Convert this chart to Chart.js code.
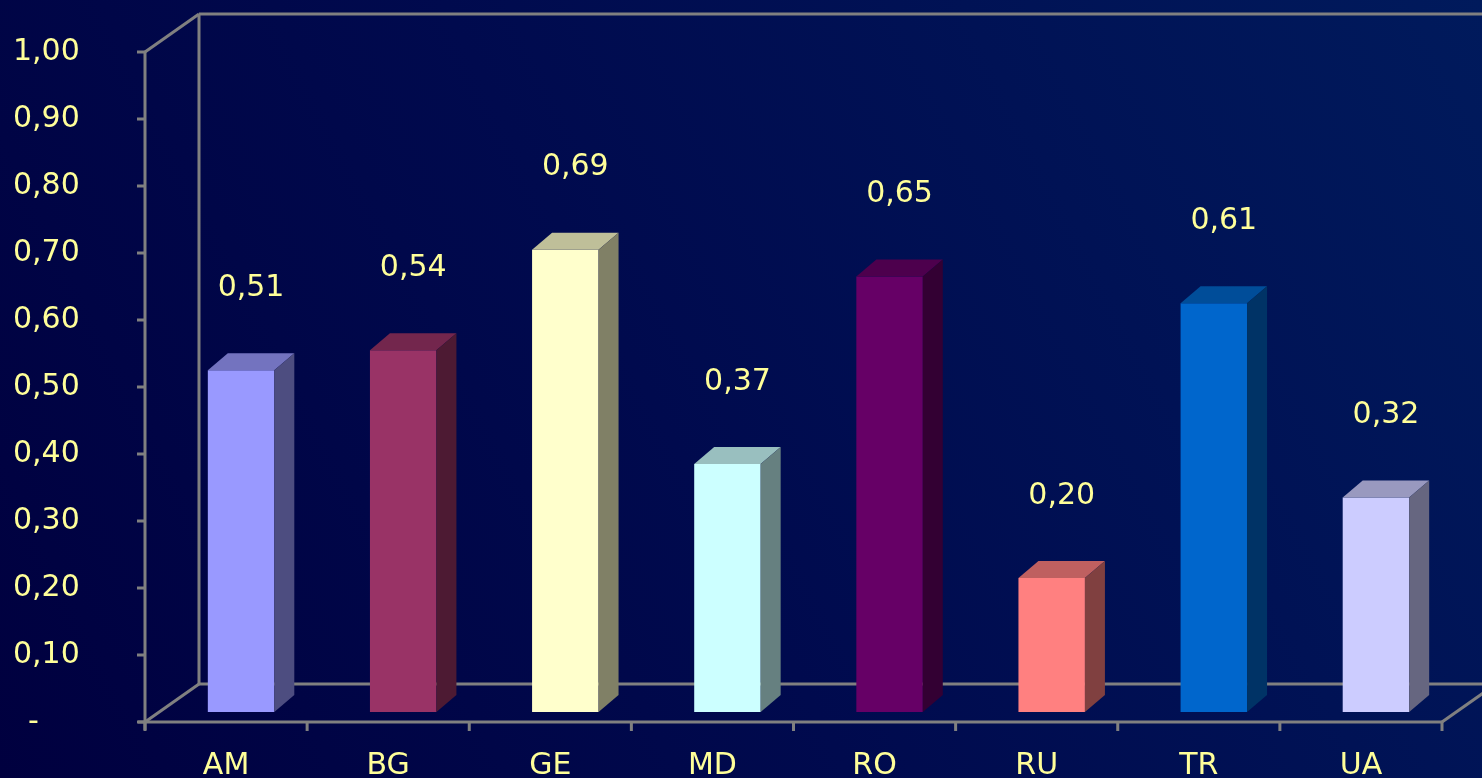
<!DOCTYPE html>
<html>
<head>
<meta charset="utf-8">
<script src="https://cdn.jsdelivr.net/npm/chart.js@4/dist/chart.umd.min.js"></script>
<style>
  html, body { margin: 0; padding: 0; background: #00004a; overflow: hidden; }
  #wrap { width: 1482px; height: 778px; }
</style>
</head>
<body>
<div id="wrap"><canvas id="c" width="1482" height="778"></canvas></div>
<script>
// Country codes along the category axis
const countries = ['AM', 'BG', 'GE', 'MD', 'RO', 'RU', 'TR', 'UA'];
// Index value per country
const values = [0.51, 0.54, 0.69, 0.37, 0.65, 0.20, 0.61, 0.32];
// Front-face colour of each column
const barColors = ['#9999FF', '#993366', '#FFFFCC', '#CCFFFF', '#660066', '#FF8080', '#0066CC', '#CCCCFF'];
// Value axis ticks
const yTicks = [0, 0.1, 0.2, 0.3, 0.4, 0.5, 0.6, 0.7, 0.8, 0.9, 1.0];

const TEXT = '#FFFF99';
const LINE = '#808080';
const FONT = '"DejaVu Sans", sans-serif';

// Depth of the floor / walls and of each column
const WALL = { dx: 54, dy: -38 };
const COL = { dx: 20, dy: -17 };
// Columns stand part-way into the floor
const COL_SHIFT = { x: 15, y: -10 };

function fmt(v) {
  if (Math.abs(v) < 1e-9) return '\u2002-';
  return v.toFixed(2).replace('.', ',');
}

function shade(hex, f) {
  const n = parseInt(hex.slice(1), 16);
  const r = Math.round(((n >> 16) & 255) * f);
  const g = Math.round(((n >> 8) & 255) * f);
  const b = Math.round((n & 255) * f);
  return `rgb(${r},${g},${b})`;
}

const scene3d = {
  id: 'scene3d',
  beforeDraw(chart) {
    const { ctx, width, height } = chart;
    ctx.save();
    const g = ctx.createLinearGradient(0, height, width, 0);
    g.addColorStop(0, '#00003f');
    g.addColorStop(0.45, '#000a4e');
    g.addColorStop(1, '#001a5c');
    ctx.fillStyle = g;
    ctx.fillRect(0, 0, width, height);
    ctx.restore();
  },
  beforeDatasetsDraw(chart) {
    const { ctx, chartArea: a, scales } = chart;
    const W = chart.width;
    const y0 = scales.y.getPixelForValue(0);
    const y1 = scales.y.getPixelForValue(1);
    ctx.save();
    ctx.strokeStyle = LINE;
    ctx.lineWidth = 3;
    ctx.lineCap = 'butt';
    const seg = (x1, y1_, x2, y2) => { ctx.beginPath(); ctx.moveTo(x1, y1_); ctx.lineTo(x2, y2); ctx.stroke(); };
    // back wall
    seg(a.left + WALL.dx, y0 + WALL.dy, a.left + WALL.dx, y1 + WALL.dy);
    seg(a.left + WALL.dx, y1 + WALL.dy, W, y1 + WALL.dy);
    seg(a.left, y1, a.left + WALL.dx, y1 + WALL.dy);
    // floor
    seg(a.left + WALL.dx, y0 + WALL.dy, W, y0 + WALL.dy);
    seg(a.left, y0, a.left + WALL.dx, y0 + WALL.dy);
    seg(a.left - 7, y0, a.right, y0);
    seg(a.right, y0, a.right + WALL.dx, y0 + WALL.dy);
    // value axis with ticks
    seg(a.left, y1, a.left, y0 + 8);
    yTicks.forEach(t => {
      const py = scales.y.getPixelForValue(t);
      seg(a.left - 8, py, a.left, py);
    });
    // category boundaries
    const n = countries.length;
    for (let i = 0; i <= n; i++) {
      const px = a.left + (a.right - a.left) * i / n;
      seg(px, y0, px, y0 + 9);
    }
    ctx.restore();

    ctx.save();
    ctx.translate(COL_SHIFT.x, COL_SHIFT.y);
  },
  afterDatasetsDraw(chart) {
    const { ctx } = chart;
    ctx.restore();
    const meta = chart.getDatasetMeta(0);
    ctx.save();
    meta.data.forEach((bar, i) => {
      const p = bar.getProps(['x', 'y', 'base', 'width'], true);
      const L = p.x - p.width / 2 + COL_SHIFT.x;
      const R = p.x + p.width / 2 + COL_SHIFT.x;
      const T = p.y + COL_SHIFT.y;
      const B = p.base + COL_SHIFT.y;
      // top face
      ctx.fillStyle = shade(barColors[i], 0.75);
      ctx.beginPath();
      ctx.moveTo(L, T);
      ctx.lineTo(L + COL.dx, T + COL.dy);
      ctx.lineTo(R + COL.dx, T + COL.dy);
      ctx.lineTo(R, T);
      ctx.closePath();
      ctx.fill();
      // side face
      ctx.fillStyle = shade(barColors[i], 0.5);
      ctx.beginPath();
      ctx.moveTo(R, T);
      ctx.lineTo(R + COL.dx, T + COL.dy);
      ctx.lineTo(R + COL.dx, B + COL.dy);
      ctx.lineTo(R, B);
      ctx.closePath();
      ctx.fill();
      // value label
      ctx.fillStyle = TEXT;
      ctx.font = '30px ' + FONT;
      ctx.textAlign = 'center';
      ctx.textBaseline = 'middle';
      ctx.fillText(fmt(values[i]), p.x + COL_SHIFT.x + 10, T - 82);
    });
    ctx.restore();
  }
};

new Chart(document.getElementById('c'), {
  type: 'bar',
  data: {
    labels: countries,
    datasets: [{
      data: values,
      backgroundColor: barColors,
      borderWidth: 0,
      categoryPercentage: 1,
      barPercentage: 0.41
    }]
  },
  options: {
    responsive: false,
    devicePixelRatio: 1,
    animation: false,
    events: [],
    layout: { padding: { top: 52, right: 40, left: 13, bottom: 0 } },
    plugins: { legend: { display: false }, tooltip: { enabled: false }, title: { display: false } },
    scales: {
      x: {
        type: 'category',
        offset: true,
        grid: { display: false, drawTicks: false },
        border: { display: false },
        ticks: { color: TEXT, font: { family: FONT, size: 30 }, padding: 26, maxRotation: 0, autoSkip: false },
        afterFit(s) { s.height = 56; }
      },
      y: {
        min: 0,
        max: 1,
        grid: { display: false, drawTicks: false },
        border: { display: false },
        afterBuildTicks(s) { s.ticks = yTicks.map(v => ({ value: v })); },
        ticks: { color: TEXT, font: { family: FONT, size: 30 }, padding: 0, crossAlign: 'far', callback: v => fmt(v) },
        afterFit(s) { s.width = 132; }
      }
    }
  },
  plugins: [scene3d]
});
</script>
</body>
</html>
